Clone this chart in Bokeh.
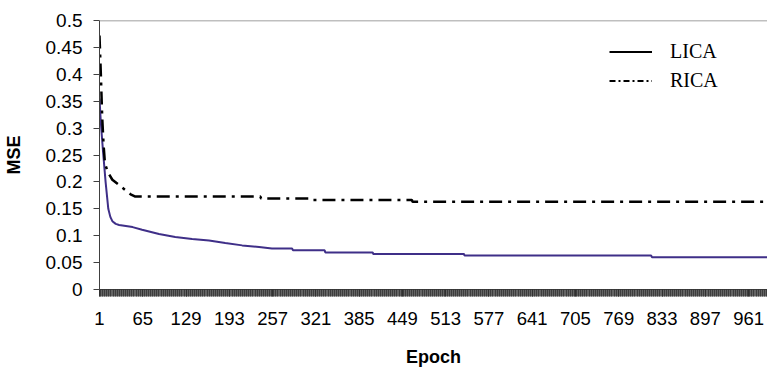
from bokeh.plotting import figure
from bokeh.models import Range1d, FixedTicker, Span, Legend, LegendItem
from bokeh.embed import file_html
from bokeh.resources import INLINE

# ---- data ----
lica_epoch = [1, 3, 6, 10, 14, 17, 20, 25, 30, 50, 64, 89, 113, 138, 163, 187, 212, 237, 256,
              286, 287, 334, 335, 405, 406, 540, 541, 817, 818, 1000]
lica_mse = [0.355, 0.31, 0.26, 0.20, 0.15, 0.135, 0.127, 0.122, 0.120, 0.116, 0.111, 0.103, 0.0975,
            0.094, 0.091, 0.0865, 0.082, 0.079, 0.076,
            0.076, 0.073, 0.073, 0.069, 0.069, 0.066, 0.066, 0.063, 0.063, 0.060, 0.060]

rica_epoch = [1, 3, 5, 7, 9, 13, 20, 35, 47, 54, 239, 240, 313, 314, 463, 464, 1000]
rica_mse = [0.472, 0.40, 0.32, 0.27, 0.235, 0.219, 0.204, 0.189, 0.177, 0.1728, 0.1728, 0.169,
            0.169, 0.1665, 0.1665, 0.163, 0.163]

x_tick_labels = [1, 65, 129, 193, 257, 321, 385, 449, 513, 577, 641, 705, 769, 833, 897, 961]
all_epochs = list(range(1, 1001))
y_tick_labels = ["0", "0.05", "0.1", "0.15", "0.2", "0.25", "0.3", "0.35", "0.4", "0.45", "0.5"]
y_ticks = [float(s) for s in y_tick_labels]

series_names = ["LICA", "RICA"]

# ---- figure ----
p = figure(width=767, height=369, output_backend="svg", toolbar_location=None,
           x_range=Range1d(1, 989), y_range=Range1d(0, 0.5),
           min_border_left=97, min_border_right=0, min_border_top=20, min_border_bottom=79)
p.grid.visible = False
p.outline_line_color = None
p.background_fill_color = "white"
p.border_fill_color = "white"

# top line at 0.5
p.add_layout(Span(location=0.5, dimension="width", line_color="#808080", line_width=1.5))

p.line(lica_epoch, lica_mse, line_color="#3f2f88", line_width=2)
p.line(rica_epoch, rica_mse, line_color="black", line_width=2.5, line_dash="13 6 3 6")

# Y axis
ya = p.yaxis[0]
ya.ticker = FixedTicker(ticks=y_ticks, minor_ticks=[])
ya.major_label_overrides = dict(zip(y_ticks, y_tick_labels))
ya.major_tick_out = 6
ya.major_tick_in = 0
ya.minor_tick_out = 0
ya.axis_line_color = "#404040"
ya.major_tick_line_color = "#404040"
ya.major_label_text_font = "Liberation Sans"
ya.major_label_text_font_size = "19px"
ya.major_label_text_color = "black"
ya.major_label_standoff = 11
ya.axis_label = "MSE"
ya.axis_label_text_font = "Liberation Sans"
ya.axis_label_text_font_style = "bold"
ya.axis_label_text_font_size = "18px"
ya.axis_label_text_color = "black"
ya.axis_label_standoff = 19

# X axis
xa = p.xaxis[0]
xa.ticker = FixedTicker(ticks=x_tick_labels, minor_ticks=all_epochs)
xa.major_tick_out = 7
xa.major_tick_in = 0
xa.minor_tick_out = 7
xa.minor_tick_in = 0
xa.axis_line_color = "#404040"
xa.major_tick_line_color = "#303030"
xa.minor_tick_line_color = "#303030"
xa.minor_tick_line_alpha = 0.75
xa.major_label_text_font = "Liberation Sans"
xa.major_label_text_font_size = "18.5px"
xa.major_label_text_color = "black"
xa.major_label_standoff = 15
xa.axis_label = "Epoch"
xa.axis_label_text_font = "Liberation Sans"
xa.axis_label_text_font_style = "bold"
xa.axis_label_text_font_size = "18px"
xa.axis_label_text_color = "black"
xa.axis_label_standoff = 19

# Legend (black samples, proxies with no visible points)
nan = float("nan")
d1 = p.line(x=[nan, nan], y=[nan, nan], line_color="black", line_width=2)
d2 = p.line(x=[nan, nan], y=[nan, nan], line_color="black", line_width=2, line_dash="6 3 2 3")
legend = Legend(items=[LegendItem(label=series_names[0], renderers=[d1]),
                       LegendItem(label=series_names[1], renderers=[d2])],
                location=(510, 197), padding=0, margin=0, spacing=6,
                glyph_width=43, glyph_height=21, label_height=21, label_standoff=18,
                label_text_font="Liberation Serif", label_text_font_size="20px",
                label_text_color="black",
                background_fill_alpha=0, border_line_color=None)
p.add_layout(legend)

open("out.html", "w").write(file_html(p, INLINE))
